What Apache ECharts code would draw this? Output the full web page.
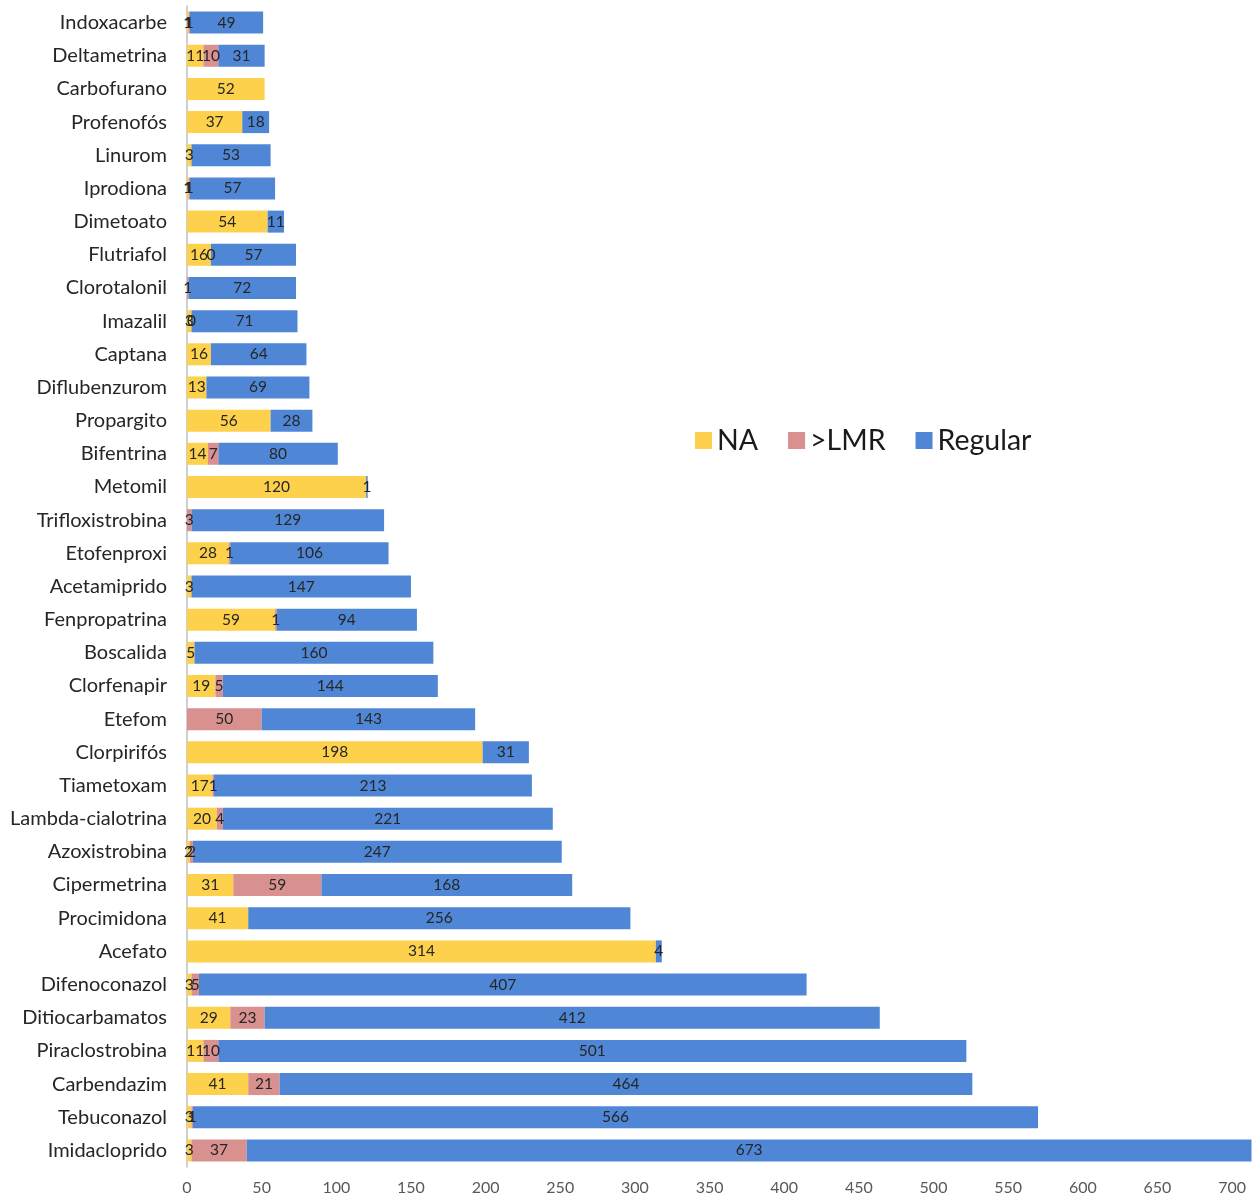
<!DOCTYPE html>
<html>
<head>
<meta charset="utf-8" />
<title>Pesticidas</title>
<style>
  html, body { margin: 0; padding: 0; background: #fff; overflow: hidden; }
  #chart { width: 1256px; height: 1196px; }
</style>
</head>
<body>
<div id="chart"></div>
<script src="https://cdn.jsdelivr.net/npm/echarts@6/dist/echarts.min.js"></script>
<script>
var categorias = ['Indoxacarbe', 'Deltametrina', 'Carbofurano', 'Profenofós', 'Linurom', 'Iprodiona',
  'Dimetoato', 'Flutriafol', 'Clorotalonil', 'Imazalil', 'Captana', 'Diflubenzurom', 'Propargito',
  'Bifentrina', 'Metomil', 'Trifloxistrobina', 'Etofenproxi', 'Acetamiprido', 'Fenpropatrina',
  'Boscalida', 'Clorfenapir', 'Etefom', 'Clorpirifós', 'Tiametoxam', 'Lambda-cialotrina',
  'Azoxistrobina', 'Cipermetrina', 'Procimidona', 'Acefato', 'Difenoconazol', 'Ditiocarbamatos',
  'Piraclostrobina', 'Carbendazim', 'Tebuconazol', 'Imidacloprido'];
var na = [1, 11, 52, 37, 3, 1, 54, 16, null, 3, 16, 13, 56, 14, 120, null, 28, 3, 59, 5, 19, null,
  198, 17, 20, 2, 31, 41, 314, 3, 29, 11, 41, 3, 3];
var lmr = [1, 10, null, null, null, 1, null, 0, 1, 0, null, null, null, 7, null, 3, 1, null, 1, null, 5, 50,
  null, 1, 4, 2, 59, null, null, 5, 23, 10, 21, 1, 37];
var regular = [49, 31, null, 18, 53, 57, 11, 57, 72, 71, 64, 69, 28, 80, 1, 129, 106, 147, 94, 160, 144, 143,
  31, 213, 221, 247, 168, 256, 4, 407, 412, 501, 464, 566, 673];

var fonte = 'Lato, "Open Sans", sans-serif';
var chart = echarts.init(document.getElementById('chart'));

function serie(nome, dados, cor) {
  return {
    name: nome,
    type: 'bar',
    stack: 'total',
    barWidth: 22,
    data: dados,
    itemStyle: { color: cor },
    label: {
      show: true,
      position: 'inside',
      color: '#262626',
      fontSize: 15.5,
      fontFamily: fonte
    }
  };
}

// the picture is cropped on the right: the axis runs on past 700, with no label there
chart.setOption({
  animation: false,
  backgroundColor: '#fff',
  grid: { left: 187, right: 0, top: 6, bottom: 24, containLabel: false },
  legend: {
    left: 690,
    top: 421,
    itemWidth: 17,
    itemHeight: 17,
    itemGap: 30,
    icon: 'rect',
    textStyle: { fontSize: 28.5, color: '#1a1a1a', fontFamily: fonte },
    data: ['NA', '>LMR', 'Regular']
  },
  xAxis: {
    type: 'value',
    min: 0,
    max: 716,
    interval: 50,
    axisLine: { show: false },
    axisTick: { show: false },
    splitLine: { show: false },
    axisLabel: { color: '#595959', fontSize: 16, fontFamily: fonte, margin: 13 }
  },
  yAxis: {
    type: 'category',
    inverse: true,
    data: categorias,
    axisLine: { show: true, lineStyle: { color: '#BFBFBF', width: 1.5 } },
    axisTick: { show: false },
    axisLabel: { color: '#262626', fontSize: 20, fontFamily: fonte, margin: 20 }
  },
  series: [
    serie('NA', na, '#FDD14B'),
    serie('>LMR', lmr, '#D99190'),
    serie('Regular', regular, '#4F87D6')
  ]
});
</script>
</body>
</html>
